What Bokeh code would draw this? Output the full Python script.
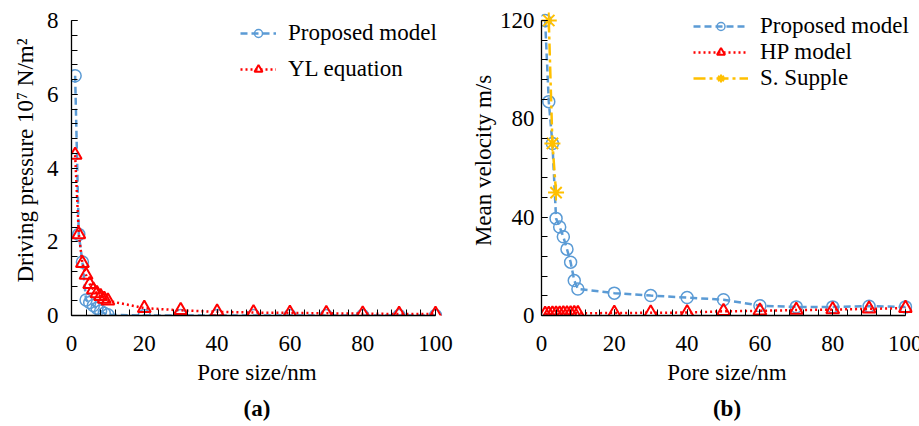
from bokeh.plotting import figure
from bokeh.layouts import row
from bokeh.models import Range1d, SingleIntervalTicker, Title, Legend, LegendItem
from bokeh.embed import file_html
from bokeh.resources import INLINE

FONT = "Liberation Serif"
FS = "23px"

# ---- data ----
pore_size = [1, 2, 3, 4, 5, 6, 7, 8, 9, 10, 20, 30, 40, 50, 60, 70, 80, 90, 100]

pressure_proposed = [6.5, 2.2, 1.45, 0.42, 0.35, 0.27, 0.2, 0.12, 0.06, 0.02,
                     0, 0, 0, 0, 0, 0, 0, 0, 0]
pressure_yl = [4.35, 2.2, 1.42, 1.1, 0.85, 0.7, 0.6, 0.52, 0.45, 0.4,
               0.2, 0.14, 0.1, 0.08, 0.07, 0.06, 0.05, 0.04, 0.04]

velocity_proposed = [120, 87, 70, 39.5, 36, 32, 27, 21.7, 14.2, 10.8,
                     9.1, 8.1, 7.3, 6.4, 4.0, 3.5, 3.5, 3.8, 3.5]
velocity_hp = [0.6, 0.6, 0.7, 0.7, 0.7, 0.8, 0.8, 0.8, 0.9, 0.9,
               1.0, 1.1, 1.2, 1.7, 1.9, 2.2, 2.4, 2.7, 3.0]
supple_size = [2, 3, 4]
velocity_supple = [120, 70, 50]

x_max = 100
left_y_max = 8
right_y_max = 120
x_ticks_interval = 20
left_y_interval = 2
right_y_interval = 40

BLUE = "#5B9BD5"
RED = "#FF0000"
GOLD = "#FFC000"

FRAME_H = 310       # frame extends a little above the top tick so legends are not clipped
AXIS_H = 295        # pixel length of the visible y axis
FRAME_W = 371
AXIS_W = 364


def base_figure(y_max, y_interval, border_left, border_right, ylabel, panel, ylab_standoff, tick_standoff):
    p = figure(frame_width=FRAME_W, frame_height=FRAME_H, output_backend="svg", toolbar_location=None,
               x_range=Range1d(0, x_max * FRAME_W / AXIS_W),
               y_range=Range1d(0, y_max * FRAME_H / AXIS_H),
               min_border_left=border_left, min_border_right=border_right,
               min_border_top=5, min_border_bottom=111)
    p.outline_line_color = None
    p.grid.visible = False
    p.background_fill_color = "white"
    p.border_fill_color = "white"
    p.xaxis.ticker = SingleIntervalTicker(interval=x_ticks_interval, num_minor_ticks=5)
    p.yaxis.ticker = SingleIntervalTicker(interval=y_interval, num_minor_ticks=5)
    p.xaxis.bounds = (0, x_max)
    p.yaxis.bounds = (0, y_max)
    for ax in (p.xaxis[0], p.yaxis[0]):
        ax.axis_line_color = "black"
        ax.axis_line_width = 1.3
        ax.major_tick_in = 6
        ax.major_tick_out = 0
        ax.minor_tick_in = 6
        ax.minor_tick_out = 0
        ax.major_tick_line_color = "black"
        ax.minor_tick_line_color = "black"
        ax.major_label_text_font = FONT
        ax.major_label_text_font_size = FS
        ax.major_label_text_color = "black"
        ax.axis_label_text_font = FONT
        ax.axis_label_text_font_size = FS
        ax.axis_label_text_font_style = "normal"
        ax.axis_label_text_color = "black"
    p.xaxis.axis_label = "Pore size/nm"
    p.xaxis.major_label_standoff = 20
    p.xaxis.axis_label_standoff = 6
    p.yaxis.axis_label = ylabel
    p.yaxis.major_label_standoff = tick_standoff
    p.yaxis.axis_label_standoff = ylab_standoff
    t = Title(text=panel, align="center", text_font=FONT, text_font_size=FS,
              text_font_style="bold", text_color="black", standoff=13)
    p.add_layout(t, "below")
    return p


# ---- (a) ----
p1 = base_figure(left_y_max, left_y_interval, 71, 25, "Driving pressure 10\u2077 N/m\u00b2", "(a)", 6, 13)
b_line = p1.line(pore_size, pressure_proposed, line_color=BLUE, line_width=2.5, line_dash="7 4")
b_mark = p1.scatter(pore_size, pressure_proposed, marker="circle", size=12, line_color=BLUE,
                    fill_color=None, line_width=1.5)
r_line = p1.line(pore_size, pressure_yl, line_color=RED, line_width=2.5, line_dash="2 3")
r_mark = p1.scatter(pore_size, pressure_yl, marker="triangle", size=13, line_color=RED,
                    fill_color=None, line_width=2)
leg1 = Legend(items=[LegendItem(label="Proposed model", renderers=[b_line, b_mark]),
                     LegendItem(label="YL equation", renderers=[r_line, r_mark])],
              location=(169, 233), padding=0, margin=0, spacing=10, glyph_width=36,
              label_standoff=12, border_line_color=None, background_fill_alpha=0,
              label_text_font=FONT, label_text_font_size=FS, label_text_color="black")
p1.add_layout(leg1)

# ---- (b) ----
p2 = base_figure(right_y_max, right_y_interval, 71, 10, "Mean velocity m/s", "(b)", 1, 7)
b2_line = p2.line(pore_size, velocity_proposed, line_color=BLUE, line_width=2.5, line_dash="7 4")
b2_mark = p2.scatter(pore_size, velocity_proposed, marker="circle", size=12, line_color=BLUE,
                     fill_color=None, line_width=1.5)
r2_line = p2.line(pore_size, velocity_hp, line_color=RED, line_width=2.5, line_dash="2 3")
r2_mark = p2.scatter(pore_size, velocity_hp, marker="triangle", size=13, line_color=RED,
                     fill_color=None, line_width=2)
y2_line = p2.line(supple_size, velocity_supple, line_color=GOLD, line_width=2.5, line_dash="12 4 3 4")
y2_mark = p2.scatter(supple_size, velocity_supple, marker="asterisk", size=16, line_color=GOLD,
                     line_width=2)
leg2 = Legend(items=[LegendItem(label="Proposed model", renderers=[b2_line, b2_mark]),
                     LegendItem(label="HP model", renderers=[r2_line, r2_mark]),
                     LegendItem(label="S. Supple", renderers=[y2_line, y2_mark])],
              location=(152, 224), padding=0, margin=0, spacing=0, glyph_width=55,
              label_standoff=12, border_line_color=None, background_fill_alpha=0,
              label_text_font=FONT, label_text_font_size=FS, label_text_color="black")
p2.add_layout(leg2)

layout = row(p1, p2)
open("out.html", "w").write(file_html(layout, INLINE))
